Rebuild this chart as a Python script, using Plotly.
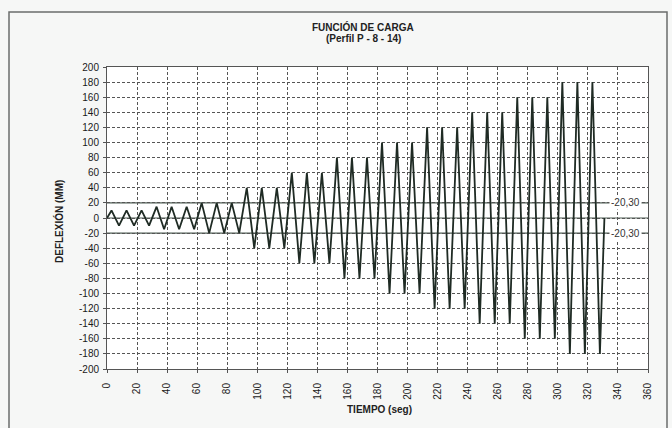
import plotly.graph_objects as go

# Data
tiempo = [0,
          3, 8, 13, 18, 23, 28,
          33, 38, 43, 48, 53, 58,
          63, 68, 73, 78, 83, 88,
          93, 98, 103, 108, 113, 118,
          123, 128, 133, 138, 143, 148,
          153, 158, 163, 168, 173, 178,
          183, 188, 193, 198, 203, 208,
          213, 218, 223, 228, 233, 238,
          243, 248, 253, 258, 263, 268,
          273, 278, 283, 288, 293, 298,
          303, 308, 313, 318, 323, 328,
          331]
deflexion = [0,
             10, -10, 10, -10, 10, -10,
             15, -15, 15, -15, 15, -15,
             20, -20, 20, -20, 20, -20,
             40, -40, 40, -40, 40, -40,
             60, -60, 60, -60, 60, -60,
             80, -80, 80, -80, 80, -80,
             100, -100, 100, -100, 100, -100,
             120, -120, 120, -120, 120, -120,
             140, -140, 140, -140, 140, -140,
             160, -160, 160, -160, 160, -160,
             180, -180, 180, -180, 180, -180,
             0]
lineas_ref = [20, 0, -20]
etiquetas_ref = ["-20,30", "-20,30"]
etiqueta_y = [20, -20]
etiqueta_x = 345

x_ticks = list(range(0, 361, 20))
y_ticks = list(range(-200, 201, 20))

FONT = "Liberation Sans, Arial, sans-serif"
NARROW = "Liberation Sans Narrow, Arial Narrow, Liberation Sans, Arial, sans-serif"

fig = go.Figure()
fig.add_trace(go.Scatter(x=tiempo, y=deflexion, mode="lines",
                         line=dict(color="#1f2b24", width=1.8),
                         showlegend=False, hoverinfo="skip"))

shapes = []
for v in lineas_ref:
    shapes.append(dict(type="line", xref="x domain", yref="y", x0=0, x1=1, y0=v, y1=v,
                       line=dict(color="#4f5f55", width=1.2), layer="below"))
# outer frame
L, R, T, B = 107, 24, 67, 59
W, H = 672, 428
pw, ph = W - L - R, H - T - B
def px2paper_x(px):
    return (px - L) / pw
def py2paper_y(py):
    return (H - B - py) / ph
shapes.append(dict(type="rect", xref="paper", yref="paper",
                   x0=px2paper_x(9), x1=px2paper_x(667), y0=py2paper_y(434), y1=py2paper_y(12),
                   line=dict(color="#6b6e6c", width=1.5), fillcolor="rgba(0,0,0,0)", layer="below"))

annotations = []
for txt, yv in zip(etiquetas_ref, etiqueta_y):
    annotations.append(dict(x=etiqueta_x, y=yv, xref="x", yref="y", text=txt, showarrow=False,
                            font=dict(family=FONT, size=10, color="#333"),
                            bgcolor="#ffffff", borderpad=1))
annotations.append(dict(x=px2paper_x(363), y=py2paper_y(27), xref="paper", yref="paper",
                        text="<b>FUNCIÓN DE CARGA</b>", showarrow=False,
                        font=dict(family=NARROW, size=10, color="#222"), yanchor="middle"))
annotations.append(dict(x=px2paper_x(363), y=py2paper_y(38), xref="paper", yref="paper",
                        text="<b>(Perfil P - 8 - 14)</b>", showarrow=False,
                        font=dict(family=NARROW, size=10, color="#222"), yanchor="middle"))
annotations.append(dict(x=px2paper_x(51), y=py2paper_y(222), xref="paper", yref="paper",
                        text="<b>DEFLEXIÓN (MM)</b>", showarrow=False, textangle=-90,
                        font=dict(family=FONT, size=10, color="#222")))
annotations.append(dict(x=px2paper_x(379), y=py2paper_y(417), xref="paper", yref="paper",
                        text="<b>TIEMPO (seg)</b>", showarrow=False,
                        font=dict(family=FONT, size=10, color="#222")))

fig.update_layout(
    width=W, height=H,
    margin=dict(l=L, r=R, t=T, b=B),
    paper_bgcolor="#f6f7f6",
    plot_bgcolor="#ffffff",
    shapes=shapes,
    annotations=annotations,
    showlegend=False,
)
fig.update_xaxes(range=[0, 360], tickvals=x_ticks, ticktext=[str(v) for v in x_ticks],
                 tickangle=-90, tickfont=dict(family=FONT, size=10, color="#1a1a1a"),
                 ticklabelstandoff=6,
                 showgrid=True, gridcolor="#555", griddash="3px,2px", gridwidth=1,
                 showline=True, linecolor="#555", linewidth=1, mirror=True,
                 ticks="outside", ticklen=3, tickcolor="#555", zeroline=False)
fig.update_yaxes(range=[-200, 200], tickvals=y_ticks, ticktext=[str(v) for v in y_ticks],
                 tickfont=dict(family=FONT, size=10, color="#1a1a1a"),
                 ticklabelstandoff=2,
                 showgrid=True, gridcolor="#555", griddash="3px,2px", gridwidth=1,
                 showline=True, linecolor="#555", linewidth=1, mirror=True,
                 ticks="outside", ticklen=3, tickcolor="#555", zeroline=False)

fig.write_html("out.html")
